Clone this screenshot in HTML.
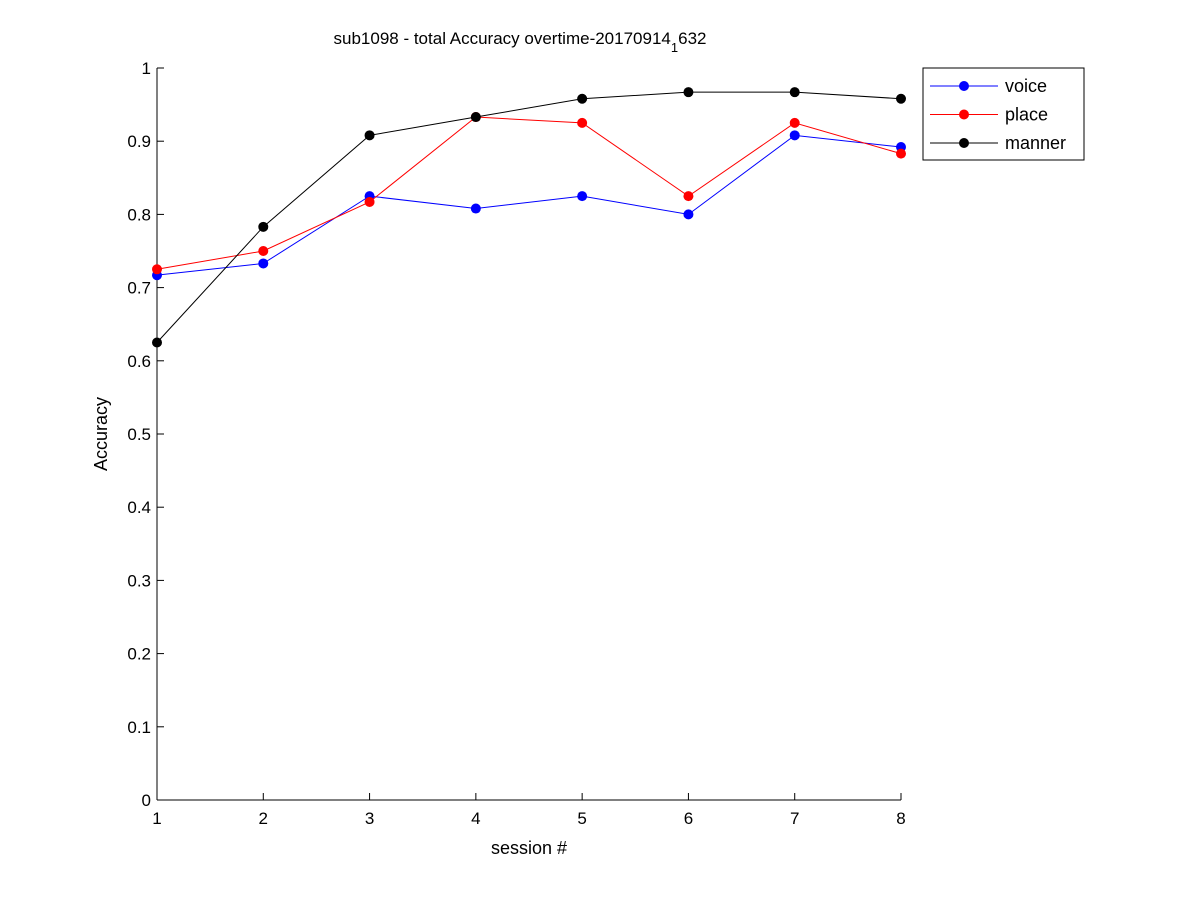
<!DOCTYPE html>
<html><head><meta charset="utf-8"><style>
body{margin:0;background:#fff;}
svg text{font-family:"Liberation Sans",Arial,sans-serif;}
</style></head><body>
<svg id="chart" width="1200" height="900" viewBox="0 0 1200 900">
<rect width="1200" height="900" fill="#fff"/>
<g id="axes"></g>
<g id="series"></g>
<text x="520" y="44" font-size="17" text-anchor="middle">sub1098 - total Accuracy overtime-20170914<tspan font-size="13" dy="8">1</tspan><tspan dy="-8">632</tspan></text>
<text x="529" y="854" font-size="18" text-anchor="middle">session #</text>
<text transform="translate(107,434) rotate(-90)" font-size="18" text-anchor="middle">Accuracy</text>
<g id="legend"></g>
</svg>
<script>
const sessions=[1,2,3,4,5,6,7,8];
const voice=[0.717,0.733,0.825,0.808,0.825,0.8,0.908,0.892];
const place=[0.725,0.75,0.817,0.933,0.925,0.825,0.925,0.883];
const manner=[0.625,0.783,0.908,0.933,0.958,0.967,0.967,0.958];
const yTicks=[0,0.1,0.2,0.3,0.4,0.5,0.6,0.7,0.8,0.9,1];
const yTickLabels=["0","0.1","0.2","0.3","0.4","0.5","0.6","0.7","0.8","0.9","1"];
const seriesNames=["voice","place","manner"];
const ns="http://www.w3.org/2000/svg";
const L=157,R=901,T=68,B=800;
const xs=v=>L+(v-1)/7*(R-L);
const ys=v=>B-v*(B-T);
function mk(tag,attrs,parent){const e=document.createElementNS(ns,tag);for(const k in attrs)e.setAttribute(k,attrs[k]);parent.appendChild(e);return e;}
const ax=document.getElementById('axes');
let e=mk('rect',{x:L,y:T,width:R-L,height:B-T,fill:'none',stroke:'none'},ax);


e=mk('line',{x1:L,y1:B,x2:R,y2:B,stroke:'#000'},ax);


e=mk('line',{x1:L,y1:T,x2:L,y2:B,stroke:'#000'},ax);


sessions.forEach(s=>{
 mk('line',{x1:xs(s),y1:B,x2:xs(s),y2:B-7,stroke:'#000'},ax);
 const t=mk('text',{x:xs(s),y:B+24,'font-size':17,'text-anchor':'middle'},ax);t.textContent=s;
 
 
});
yTicks.forEach((v,i)=>{
 mk('line',{x1:L,y1:ys(v),x2:L+7,y2:ys(v),stroke:'#000'},ax);
 const t=mk('text',{x:L-6,y:ys(v)+6,'font-size':17,'text-anchor':'end'},ax);t.textContent=yTickLabels[i];
 
 
});
const sg=document.getElementById('series');
const data=[voice,place,manner],cols=['#0000ff','#ff0000','#000000'];
data.forEach((d,i)=>{
 const g=mk('g',{},sg);
 
 
 mk('polyline',{points:d.map((v,j)=>xs(sessions[j])+','+ys(v)).join(' '),fill:'none',stroke:cols[i],'stroke-width':1},g);
 d.forEach((v,j)=>{const c=mk('circle',{cx:xs(sessions[j]),cy:ys(v),r:5,fill:cols[i]},g);
  
  });
});
const lg=document.getElementById('legend');
mk('rect',{x:923,y:68,width:161,height:92,fill:'#fff',stroke:'#000'},lg);
seriesNames.forEach((n,i)=>{
 const y=86+i*28.5;
 const g=mk('g',{},lg);
 
 
 mk('line',{x1:930,y1:y,x2:998,y2:y,stroke:cols[i]},g);
 mk('circle',{cx:964,cy:y,r:5,fill:cols[i]},g);
 const t=mk('text',{x:1005,y:y+6,'font-size':18},g);t.textContent=n;
});
</script>
</body></html>
